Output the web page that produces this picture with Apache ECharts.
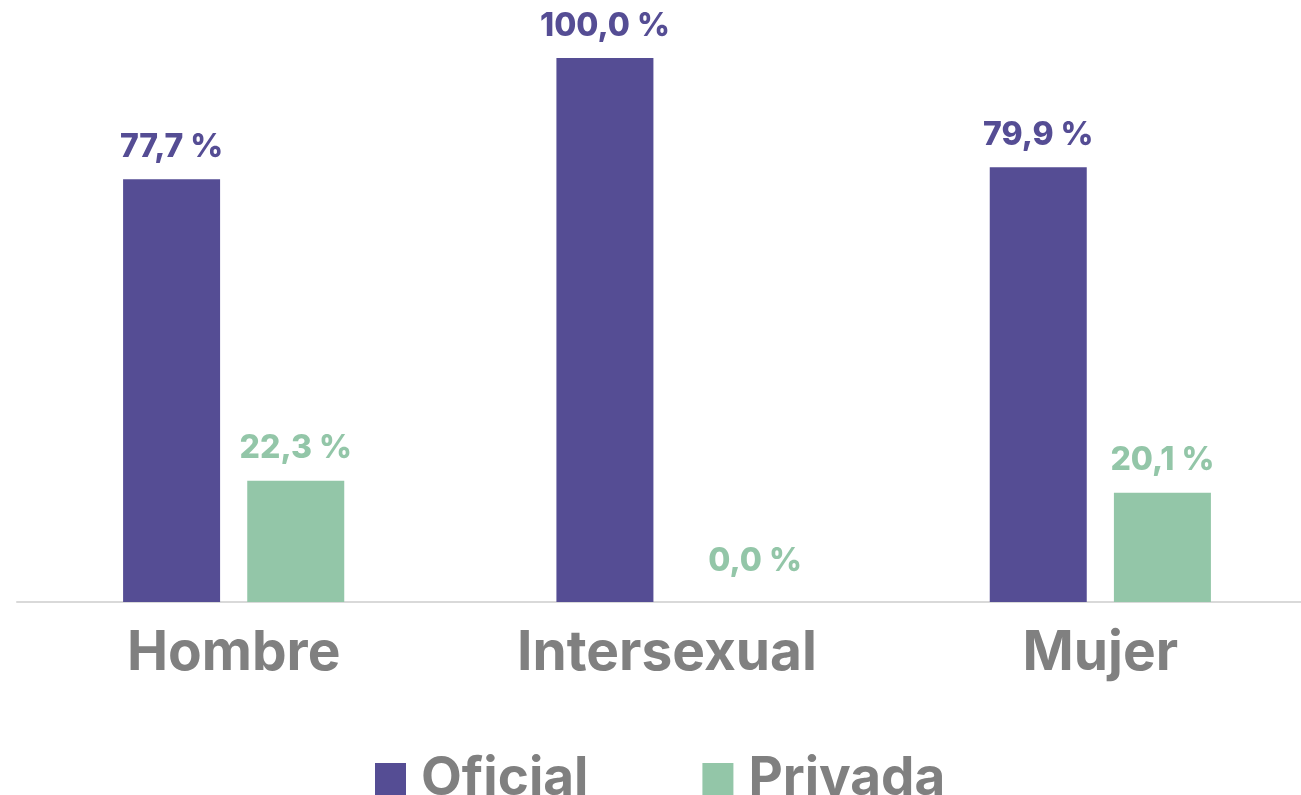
<!DOCTYPE html>
<html>
<head>
<meta charset="utf-8">
<script src="https://cdn.jsdelivr.net/npm/echarts@6/dist/echarts.min.js"></script>
<style>
  html, body { margin: 0; padding: 0; background: #fff; }
  #chart { width: 1301px; height: 795px; }
</style>
</head>
<body>
<div id="chart"></div>
<script>
const categories = ['Hombre', 'Intersexual', 'Mujer'];
const oficial = [77.7, 100.0, 79.9];
const privada = [22.3, 0.0, 20.1];

const purple = '#554d94';
const green = '#93c6a8';
const font = 'Inter';

function pct(p) {
  return p.value.toFixed(1).replace('.', ',') + ' %';
}

// the 0 % label sits a bit right and higher in the original
const privadaData = privada.map(v => v === 0 ? { value: v, label: { offset: [26, -9] } } : v);

const chart = echarts.init(document.getElementById('chart'));
chart.setOption({
  animation: false,
  textStyle: { fontFamily: font },
  grid: { left: 17, width: 1300, top: 58, bottom: 193, containLabel: false, outerBoundsMode: 'none' },
  legend: {
    top: 748,
    left: 370,
    itemWidth: 31,
    itemHeight: 33,
    itemGap: 114,
    icon: 'rect',
    textStyle: { color: '#808080', fontSize: 53, fontWeight: 'bold', fontFamily: font, padding: [0, 0, 0, 10] }
  },
  xAxis: {
    type: 'category',
    data: categories,
    axisLine: { lineStyle: { color: '#d9d9d9', width: 2 } },
    axisTick: { show: false },
    axisLabel: { color: '#808080', fontSize: 55, fontWeight: 'bold', margin: 24 }
  },
  yAxis: {
    type: 'value',
    min: 0,
    max: 100,
    show: false,
    splitLine: { show: false }
  },
  series: [
    {
      name: 'Oficial',
      type: 'bar',
      data: oficial,
      barWidth: 97,
      barGap: '28%',
      itemStyle: { color: purple },
      label: { show: true, position: 'top', distance: 16, formatter: pct, color: purple, fontSize: 32, fontWeight: 800 }
    },
    {
      name: 'Privada',
      type: 'bar',
      data: privadaData,
      barWidth: 97,
      itemStyle: { color: green },
      label: { show: true, position: 'top', distance: 16, formatter: pct, color: green, fontSize: 32, fontWeight: 800 }
    }
  ]
});
</script>
</body>
</html>
